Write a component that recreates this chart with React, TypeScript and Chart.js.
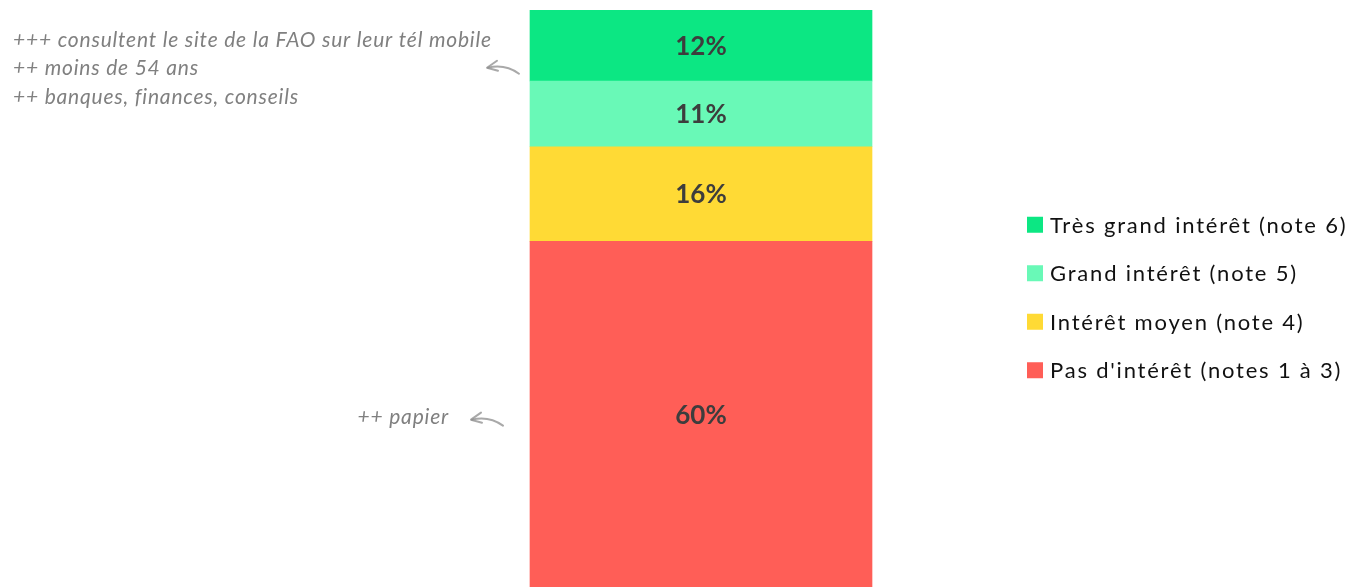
import React, { useEffect, useRef } from "react";
import { Chart, registerables } from "chart.js";

Chart.register(...registerables);

// Stack order: bottom segment first
const categories = ["Intérêt"];
const seriesLabels = [
  "Pas d'intérêt (notes 1 à 3)",
  "Intérêt moyen (note 4)",
  "Grand intérêt (note 5)",
  "Très grand intérêt (note 6)",
];
const seriesValues = [59.9, 16.4, 11.4, 12.3];
const seriesColors = ["#FF5E57", "#FFDA35", "#69F9B7", "#0CE783"];

// Side notes, anchored to a value on the stacked axis
const noteTopLines = [
  "+++ consultent le site de la FAO sur leur tél mobile",
  "++ moins de 54 ans",
  "++ banques, finances, conseils",
];
const noteTopAnchor = 90;
const noteBottomLines = ["++ papier"];
const noteBottomAnchor = 29;

const FONT = "Lato, 'Open Sans', sans-serif";

function drawArrow(ctx: CanvasRenderingContext2D, headX: number, headY: number) {
  ctx.save();
  ctx.strokeStyle = "rgba(140,140,140,0.75)";
  ctx.lineWidth = 2;
  ctx.lineCap = "round";
  ctx.lineJoin = "round";
  ctx.beginPath();
  ctx.moveTo(headX + 32, headY + 6);
  ctx.quadraticCurveTo(headX + 18, headY - 4, headX + 1, headY);
  ctx.stroke();
  ctx.beginPath();
  ctx.moveTo(headX + 10, headY - 7);
  ctx.lineTo(headX, headY);
  ctx.lineTo(headX + 11, headY + 3);
  ctx.stroke();
  ctx.restore();
}

function setSpacing(ctx: CanvasRenderingContext2D, v: string) {
  (ctx as any).letterSpacing = v;
}

const overlayPlugin = {
  id: "overlay",
  afterDatasetsDraw(chart: any) {
    const ctx: CanvasRenderingContext2D = chart.ctx;
    const yScale = chart.scales.y;

    // value labels centred in each segment
    ctx.save();
    ctx.font = `bold 26px ${FONT}`;
    ctx.fillStyle = "#3d3d3d";
    ctx.textAlign = "center";
    ctx.textBaseline = "middle";
    chart.data.datasets.forEach((ds: any, i: number) => {
      const el = chart.getDatasetMeta(i).data[0];
      if (!el) return;
      const cy = (el.y + el.base) / 2;
      ctx.fillText(`${Math.round(ds.data[0])}%`, el.x, cy + 1);
    });
    ctx.restore();

    const bar = chart.getDatasetMeta(0).data[0];
    const barLeft = bar.x - bar.width / 2;
    const barRight = bar.x + bar.width / 2;

    // side notes with arrows
    ctx.save();
    ctx.font = `italic 21px ${FONT}`;
    setSpacing(ctx, "0.8px");
    ctx.fillStyle = "#808080";
    ctx.textBaseline = "middle";
    const lineH = 28.5;
    const topY = yScale.getPixelForValue(noteTopAnchor);
    ctx.textAlign = "left";
    noteTopLines.forEach((t, k) => {
      ctx.fillText(t, 13, topY + (k - (noteTopLines.length - 1) / 2) * lineH + 1);
    });
    drawArrow(ctx, barLeft - 43, topY);

    const botY = yScale.getPixelForValue(noteBottomAnchor);
    ctx.textAlign = "right";
    noteBottomLines.forEach((t, k) => {
      ctx.fillText(t, barLeft - 81, botY + k * lineH - 2);
    });
    setSpacing(ctx, "0px");
    drawArrow(ctx, barLeft - 59, botY);
    ctx.restore();

    // legend, top of stack first, centred on the plot height
    ctx.save();
    const area = chart.chartArea;
    const n = chart.data.datasets.length;
    const spacing = 48.5;
    const midY = (area.top + area.bottom) / 2 - 1;
    const boxX = barRight + 155;
    ctx.font = `22px ${FONT}`;
    setSpacing(ctx, "1.8px");
    ctx.textAlign = "left";
    ctx.textBaseline = "middle";
    for (let k = 0; k < n; k++) {
      const idx = n - 1 - k;
      const ds = chart.data.datasets[idx];
      const cy = midY + (k - (n - 1) / 2) * spacing;
      ctx.fillStyle = ds.backgroundColor;
      ctx.fillRect(boxX, cy - 8, 16, 16);
      ctx.fillStyle = "#111111";
      ctx.fillText(ds.label, boxX + 23, cy + 1);
    }
    setSpacing(ctx, "0px");
    ctx.restore();
  },
};

export default function App() {
  const canvasRef = useRef<HTMLCanvasElement | null>(null);

  useEffect(() => {
    if (!canvasRef.current) return;
    const total = seriesValues.reduce((a, b) => a + b, 0);
    const chart = new Chart(canvasRef.current, {
      type: "bar",
      data: {
        labels: categories,
        datasets: seriesLabels.map((label, i) => ({
          label,
          data: [seriesValues[i]],
          backgroundColor: seriesColors[i],
          borderWidth: 0,
          barThickness: 342,
        })),
      },
      options: {
        animation: false,
        responsive: true,
        maintainAspectRatio: false,
        layout: { padding: { top: 10, bottom: 0, left: 48, right: 0 } },
        plugins: {
          legend: { display: false },
          tooltip: { enabled: false },
        },
        scales: {
          x: { stacked: true, display: false },
          y: { stacked: true, display: false, min: 0, max: total },
        },
      },
      plugins: [overlayPlugin],
    });
    return () => chart.destroy();
  }, []);

  return (
    <div style={{ position: "absolute", left: 0, top: 0, width: 1354, height: 587 }}>
      <canvas ref={canvasRef} />
    </div>
  );
}
